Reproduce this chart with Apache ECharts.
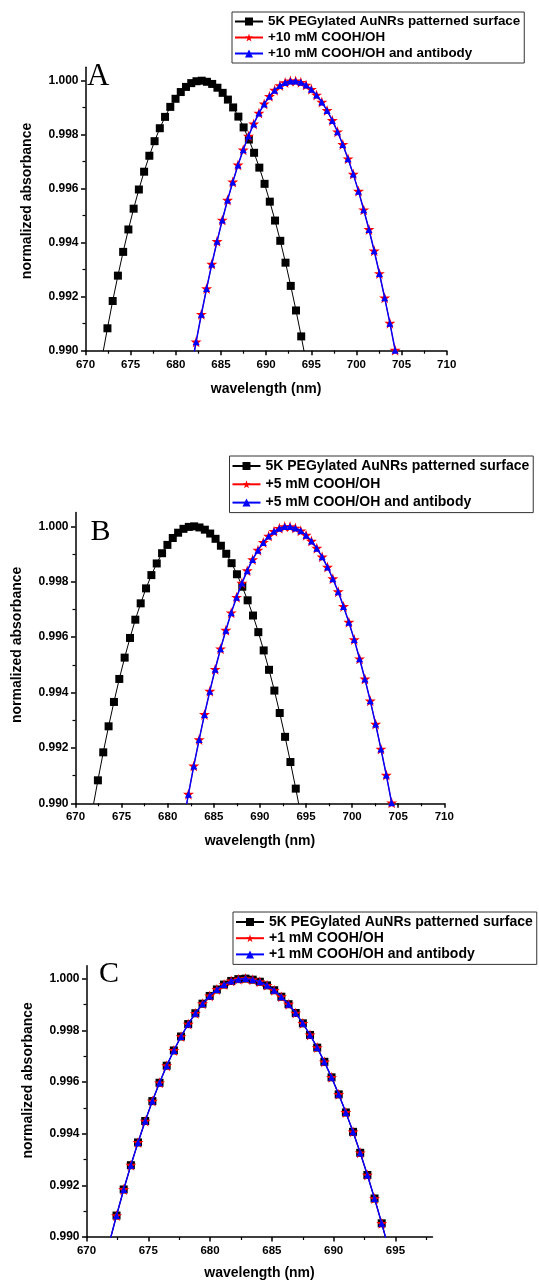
<!DOCTYPE html>
<html><head><meta charset="utf-8">
<script src="https://cdn.jsdelivr.net/npm/echarts@6/dist/echarts.min.js"></script>
<style>html,body{margin:0;padding:0;background:#fff}#c{width:539px;height:1281px}</style>
</head><body><div id="c"></div>
<script>
// ---------- data ----------
const nameBlack = '5K PEGylated AuNRs patterned surface';
const namesA = [nameBlack, '+10 mM COOH/OH', '+10 mM COOH/OH and antibody'];
const namesB = [nameBlack, '+5 mM COOH/OH', '+5 mM COOH/OH and antibody'];
const namesC = [nameBlack, '+1 mM COOH/OH', '+1 mM COOH/OH and antibody'];
const panelLetters = ['A', 'B', 'C'];

const yTickValues = [0.990, 0.992, 0.994, 0.996, 0.998, 1.000];
const yMinorTickValues = [0.991, 0.993, 0.995, 0.997, 0.999];
const xTickValuesAB = [670, 675, 680, 685, 690, 695, 700, 705, 710];
const xMinorTickValuesAB = [672.5, 677.5, 682.5, 687.5, 692.5, 697.5, 702.5, 707.5];
const xTickValuesC = [670, 675, 680, 685, 690, 695];
const xMinorTickValuesC = [672.5, 677.5, 682.5, 687.5, 692.5, 697.5];

// Panel A
const wlBlackA = [671.85,672.43,673.01,673.59,674.17,674.75,675.33,675.91,676.49,677.07,677.65,678.23,678.81,679.39,679.97,680.55,681.13,681.71,682.29,682.87,683.45,684.03,684.61,685.19,685.77,686.35,686.93,687.51,688.09,688.67,689.25,689.83,690.41,690.99,691.57,692.15,692.73,693.31,693.89,694.47];
const absBlackA = [0.98978,0.99083,0.99184,0.99278,0.99366,0.99449,0.99526,0.99597,0.99663,0.99722,0.99776,0.99824,0.99866,0.99903,0.99933,0.99958,0.99977,0.99991,0.99998,1.00000,0.99996,0.99988,0.99974,0.99955,0.99930,0.99901,0.99867,0.99827,0.99782,0.99733,0.99678,0.99618,0.99552,0.99482,0.99407,0.99326,0.99240,0.99149,0.99053,0.98952];
const wlRedA = [681.67,682.25,682.83,683.41,683.99,684.57,685.15,685.73,686.31,686.89,687.47,688.05,688.63,689.21,689.79,690.37,690.95,691.53,692.11,692.69,693.27,693.85,694.43,695.01,695.59,696.17,696.75,697.33,697.91,698.49,699.07,699.65,700.23,700.81,701.39,701.97,702.55,703.13,703.71,704.29,704.87];
const absRedA = [0.98926,0.99033,0.99135,0.99230,0.99321,0.99405,0.99484,0.99558,0.99625,0.99688,0.99744,0.99795,0.99840,0.99880,0.99914,0.99942,0.99965,0.99982,0.99993,0.99999,0.99999,0.99994,0.99984,0.99968,0.99947,0.99921,0.99890,0.99853,0.99811,0.99764,0.99711,0.99654,0.99591,0.99522,0.99449,0.99370,0.99286,0.99196,0.99102,0.99002,0.98897];
const wlBlueA = [681.67,682.25,682.83,683.41,683.99,684.57,685.15,685.73,686.31,686.89,687.47,688.05,688.63,689.21,689.79,690.37,690.95,691.53,692.11,692.69,693.27,693.85,694.43,695.01,695.59,696.17,696.75,697.33,697.91,698.49,699.07,699.65,700.23,700.81,701.39,701.97,702.55,703.13,703.71,704.29,704.87];
const absBlueA = [0.98926,0.99033,0.99135,0.99230,0.99321,0.99405,0.99484,0.99558,0.99625,0.99688,0.99744,0.99795,0.99840,0.99880,0.99914,0.99942,0.99965,0.99982,0.99993,0.99999,0.99999,0.99994,0.99984,0.99968,0.99947,0.99921,0.99890,0.99853,0.99811,0.99764,0.99711,0.99654,0.99591,0.99522,0.99449,0.99370,0.99286,0.99196,0.99102,0.99002,0.98897];

// Panel B
const wlBlackB = [671.85,672.43,673.01,673.59,674.17,674.75,675.33,675.91,676.49,677.07,677.65,678.23,678.81,679.39,679.97,680.55,681.13,681.71,682.29,682.87,683.45,684.03,684.61,685.19,685.77,686.35,686.93,687.51,688.09,688.67,689.25,689.83,690.41,690.99,691.57,692.15,692.73,693.31,693.89,694.47];
const absBlackB = [0.98978,0.99083,0.99184,0.99278,0.99366,0.99449,0.99526,0.99597,0.99663,0.99722,0.99776,0.99824,0.99866,0.99903,0.99933,0.99958,0.99977,0.99991,0.99998,1.00000,0.99996,0.99988,0.99974,0.99955,0.99930,0.99901,0.99867,0.99827,0.99782,0.99733,0.99678,0.99618,0.99552,0.99482,0.99407,0.99326,0.99240,0.99149,0.99053,0.98952];
const wlRedB = [681.67,682.25,682.83,683.41,683.99,684.57,685.15,685.73,686.31,686.89,687.47,688.05,688.63,689.21,689.79,690.37,690.95,691.53,692.11,692.69,693.27,693.85,694.43,695.01,695.59,696.17,696.75,697.33,697.91,698.49,699.07,699.65,700.23,700.81,701.39,701.97,702.55,703.13,703.71,704.29,704.87];
const absRedB = [0.98926,0.99033,0.99135,0.99230,0.99321,0.99405,0.99484,0.99558,0.99625,0.99688,0.99744,0.99795,0.99840,0.99880,0.99914,0.99942,0.99965,0.99982,0.99993,0.99999,0.99999,0.99994,0.99984,0.99968,0.99947,0.99921,0.99890,0.99853,0.99811,0.99764,0.99711,0.99654,0.99591,0.99522,0.99449,0.99370,0.99286,0.99196,0.99102,0.99002,0.98897];
const wlBlueB = [681.67,682.25,682.83,683.41,683.99,684.57,685.15,685.73,686.31,686.89,687.47,688.05,688.63,689.21,689.79,690.37,690.95,691.53,692.11,692.69,693.27,693.85,694.43,695.01,695.59,696.17,696.75,697.33,697.91,698.49,699.07,699.65,700.23,700.81,701.39,701.97,702.55,703.13,703.71,704.29,704.87];
const absBlueB = [0.98926,0.99033,0.99135,0.99230,0.99321,0.99405,0.99484,0.99558,0.99625,0.99688,0.99744,0.99795,0.99840,0.99880,0.99914,0.99942,0.99965,0.99982,0.99993,0.99999,0.99999,0.99994,0.99984,0.99968,0.99947,0.99921,0.99890,0.99853,0.99811,0.99764,0.99711,0.99654,0.99591,0.99522,0.99449,0.99370,0.99286,0.99196,0.99102,0.99002,0.98897];

// Panel C (all three curves overlap)
const wlBlackC = [671.85,672.43,673.01,673.59,674.17,674.75,675.33,675.91,676.49,677.07,677.65,678.23,678.81,679.39,679.97,680.55,681.13,681.71,682.29,682.87,683.45,684.03,684.61,685.19,685.77,686.35,686.93,687.51,688.09,688.67,689.25,689.83,690.41,690.99,691.57,692.15,692.73,693.31,693.89,694.47];
const absBlackC = [0.98978,0.99083,0.99184,0.99278,0.99366,0.99449,0.99526,0.99597,0.99663,0.99722,0.99776,0.99824,0.99866,0.99903,0.99933,0.99958,0.99977,0.99991,0.99998,1.00000,0.99996,0.99988,0.99974,0.99955,0.99930,0.99901,0.99867,0.99827,0.99782,0.99733,0.99678,0.99618,0.99552,0.99482,0.99407,0.99326,0.99240,0.99149,0.99053,0.98952];
const wlRedC = [671.85,672.43,673.01,673.59,674.17,674.75,675.33,675.91,676.49,677.07,677.65,678.23,678.81,679.39,679.97,680.55,681.13,681.71,682.29,682.87,683.45,684.03,684.61,685.19,685.77,686.35,686.93,687.51,688.09,688.67,689.25,689.83,690.41,690.99,691.57,692.15,692.73,693.31,693.89,694.47];
const absRedC = [0.98978,0.99083,0.99184,0.99278,0.99366,0.99449,0.99526,0.99597,0.99663,0.99722,0.99776,0.99824,0.99866,0.99903,0.99933,0.99958,0.99977,0.99991,0.99998,1.00000,0.99996,0.99988,0.99974,0.99955,0.99930,0.99901,0.99867,0.99827,0.99782,0.99733,0.99678,0.99618,0.99552,0.99482,0.99407,0.99326,0.99240,0.99149,0.99053,0.98952];
const wlBlueC = [671.85,672.43,673.01,673.59,674.17,674.75,675.33,675.91,676.49,677.07,677.65,678.23,678.81,679.39,679.97,680.55,681.13,681.71,682.29,682.87,683.45,684.03,684.61,685.19,685.77,686.35,686.93,687.51,688.09,688.67,689.25,689.83,690.41,690.99,691.57,692.15,692.73,693.31,693.89,694.47];
const absBlueC = [0.98978,0.99083,0.99184,0.99278,0.99366,0.99449,0.99526,0.99597,0.99663,0.99722,0.99776,0.99824,0.99866,0.99903,0.99933,0.99958,0.99977,0.99991,0.99998,1.00000,0.99996,0.99988,0.99974,0.99955,0.99930,0.99901,0.99867,0.99827,0.99782,0.99733,0.99678,0.99618,0.99552,0.99482,0.99407,0.99326,0.99240,0.99149,0.99053,0.98952];

// ---------- chart ----------
const FONT = '"Liberation Sans", Arial, sans-serif';
const STAR = 'path://M50,2 L61.8,38.2 L100,38.2 L69.1,61.8 L80.9,98 L50,75.6 L19.1,98 L30.9,61.8 L0,38.2 L38.2,38.2 Z';
const zip = (xs, ys) => xs.map((x, i) => [x, ys[i]]);

const panels = [
  { grid: {left: 85.5, top: 67.2, width: 361.2, height: 283.5}, xMax: 710, xTicks: xTickValuesAB, xMinor: xMinorTickValuesAB,
    names: namesA, data: [zip(wlBlackA, absBlackA), zip(wlRedA, absRedA), zip(wlBlueA, absBlueA)],
    legend: {left: 232, top: 12, fs: 13.4, gap: 3, pad: [3, 4, 3, 2]}, letter: {x: 87, y: 77, fs: 31},
    yNamePad: [0, 0, 0, 16], xNameGap: 31 },
  { grid: {left: 75.5, top: 512.5, width: 368.8, height: 290.8}, xMax: 710, xTicks: xTickValuesAB, xMinor: xMinorTickValuesAB,
    names: namesB, data: [zip(wlBlackB, absBlackB), zip(wlRedB, absRedB), zip(wlBlueB, absBlueB)],
    legend: {left: 229.5, top: 456, fs: 14, gap: 4.3, pad: [3, 4, 3, 2]}, letter: {x: 90.5, y: 531.7, fs: 30},
    yNamePad: [0, 0, 0, 26], xNameGap: 31 },
  { grid: {left: 86.5, top: 965.7, width: 346, height: 271.5}, xMax: 698, xTicks: xTickValuesC, xMinor: xMinorTickValuesC,
    names: namesC, data: [zip(wlBlackC, absBlackC), zip(wlRedC, absRedC), zip(wlBlueC, absBlueC)],
    legend: {left: 233, top: 912, fs: 14, gap: 2.2, pad: [3, 4, 3, 2]}, letter: {x: 99, y: 974.5, fs: 30},
    yNamePad: [0, 0, 0, 42], xNameGap: 29 }
];

const grid = [], xAxis = [], yAxis = [], series = [], legend = [], graphic = [];
const styles = [
  {color: '#000000', symbol: 'rect', size: 8, lw: 1},
  {color: '#ff0000', symbol: STAR, size: 11, lw: 1},
  {color: '#0000ff', symbol: 'triangle', size: 7, lw: 1.5}
];

panels.forEach((p, i) => {
  grid.push(Object.assign({containLabel: false}, p.grid));
  const xMain = {
    type: 'value', gridIndex: i, position: 'bottom', offset: 0, min: 670, max: p.xMax,
    name: 'wavelength (nm)', nameLocation: 'middle', nameGap: p.xNameGap,
    nameTextStyle: {fontFamily: FONT, fontWeight: 'bold', fontSize: 14, color: '#000'},
    axisLine: {show: true, onZero: false, lineStyle: {color: '#000', width: 1.5}},
    axisTick: {show: true, inside: false, length: 4.5, customValues: p.xTicks, lineStyle: {color: '#000', width: 1.5}},
    axisLabel: {show: true, margin: 8, customValues: p.xTicks, fontFamily: FONT, fontWeight: 'bold', fontSize: 11.5, color: '#000', formatter: v => String(Math.round(v))},
    splitLine: {show: false}
  };
  const xMinor = {
    type: 'value', gridIndex: i, position: 'bottom', offset: 0, min: 670, max: p.xMax,
    axisLine: {show: false, onZero: false},
    axisTick: {show: true, inside: false, length: 3, customValues: p.xMinor, lineStyle: {color: '#000', width: 1.2}},
    axisLabel: {show: false}, splitLine: {show: false}
  };
  const yMain = {
    type: 'value', gridIndex: i, position: 'left', offset: 0, min: 0.990, max: 1.0005,
    name: 'normalized absorbance', nameLocation: 'middle', nameGap: 51, nameRotate: 90,
    nameTextStyle: {fontFamily: FONT, fontWeight: 'bold', fontSize: 14, color: '#000', padding: p.yNamePad},
    axisLine: {show: true, onZero: false, lineStyle: {color: '#000', width: 1.5}},
    axisTick: {show: true, inside: false, length: 4.5, customValues: yTickValues, lineStyle: {color: '#000', width: 1.5}},
    axisLabel: {show: true, margin: 7, customValues: yTickValues, fontFamily: FONT, fontWeight: 'bold', fontSize: 12, color: '#000', formatter: v => v.toFixed(3)},
    splitLine: {show: false}
  };
  const yMinor = {
    type: 'value', gridIndex: i, position: 'left', offset: 0, min: 0.990, max: 1.0005,
    axisLine: {show: false, onZero: false},
    axisTick: {show: true, inside: false, length: 3, customValues: yMinorTickValues, lineStyle: {color: '#000', width: 1.2}},
    axisLabel: {show: false}, splitLine: {show: false}
  };
  xAxis.push(xMain, xMinor);
  yAxis.push(yMain, yMinor);
  p.names.forEach((nm, j) => {
    const s = styles[j];
    series.push({
      type: 'line', name: nm, xAxisIndex: 2 * i, yAxisIndex: 2 * i, data: p.data[j],
      symbol: s.symbol, symbolSize: s.size, showSymbol: true, clip: true, z: 2 + j,
      lineStyle: {color: s.color, width: s.lw}, itemStyle: {color: s.color, borderWidth: 0},
      emphasis: {disabled: true}
    });
  });
  legend.push({
    data: p.names, orient: 'vertical', left: p.legend.left, top: p.legend.top,
    itemWidth: 28, itemHeight: 10, itemGap: p.legend.gap, padding: p.legend.pad,
    borderColor: '#333', borderWidth: 1, backgroundColor: '#fff',
    textStyle: {fontFamily: FONT, fontWeight: 'bold', fontSize: p.legend.fs, color: '#000'},
    selectedMode: false
  });
  graphic.push({
    type: 'text', x: p.letter.x, y: p.letter.y,
    style: {text: panelLetters[i], fontFamily: '"Liberation Serif", "Times New Roman", serif', fontSize: p.letter.fs, fill: '#000', verticalAlign: 'middle', align: 'left'}
  });
});

const chart = echarts.init(document.getElementById('c'), null, {renderer: 'canvas'});
chart.setOption({animation: false, backgroundColor: '#fff', grid, xAxis, yAxis, series, legend, graphic});
</script>
</body></html>
